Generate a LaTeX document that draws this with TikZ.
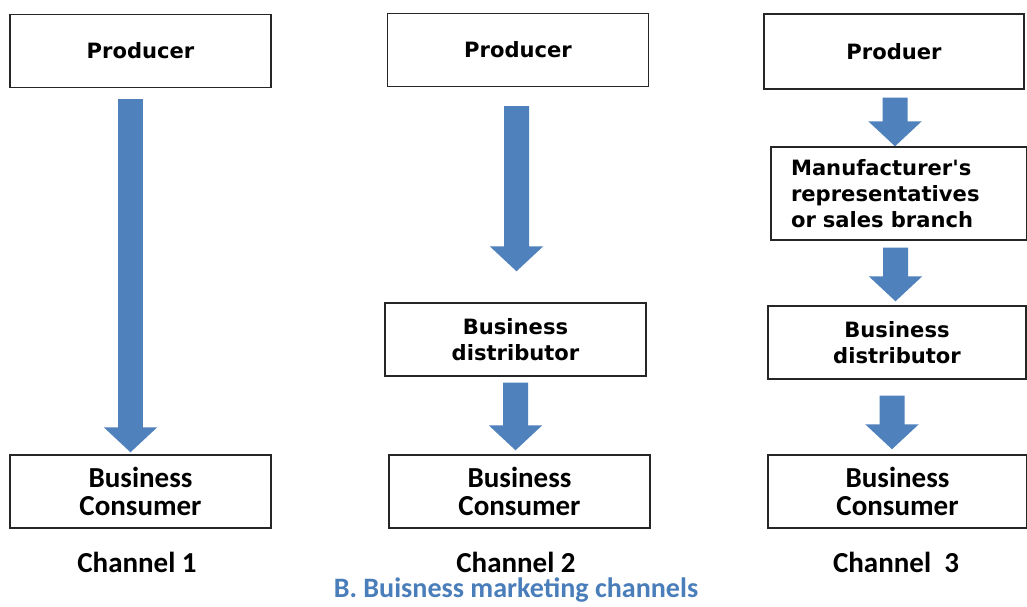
\documentclass[tikz,border=0pt]{standalone}
\usepackage{fontspec}
\setmainfont{Carlito}
\newfontfamily\verdfont{DejaVu Sans}
\usetikzlibrary{arrows.meta}
\definecolor{arrowblue}{RGB}{79,129,189}
\definecolor{titleblue}{RGB}{74,126,187}

\begin{document}
\begin{tikzpicture}[x = 0.02cm, y = -0.02cm]
\tikzstyle{BoxStyle}=[draw = black!85,
                      line width = 0.8pt,
                      minimum width = 5.22cm,
                      minimum height = 1.46cm,
                      inner sep = 0pt,
                      align = center]
\tikzstyle{TopText}=[font = \verdfont\bfseries\fontsize{12}{14.7}\selectfont]
\tikzstyle{LowText}=[font = \bfseries\fontsize{16.5}{15.9}\selectfont, inner sep = 0pt]
\tikzstyle{FlowArrow}=[draw = arrowblue, line width = 0.5cm,
                       -{Triangle[width = 1.04cm, length = 0.5cm]}]
\fill[white] (0,0) rectangle (1027,606);
\useasboundingbox (0,0) rectangle (1027,606);
\node[BoxStyle, TopText] (prod1) at (140.5, 51) {Producer};
\node[BoxStyle, TopText] (prod2) at (518, 50) {Producer};
\node[BoxStyle, TopText, minimum width = 5.2cm, minimum height = 1.5cm] (prod3) at (894, 51.5) {Produer};
\node[BoxStyle, TopText, minimum width = 5.12cm, minimum height = 1.86cm,
      text width = 4.32cm, align = left] (rep3) at (899, 193.5) {Manufacturer\textquotesingle s\\representatives\\or sales branch};
\node[BoxStyle, TopText] (dist2) at (515.5, 339.5) {Business\\distributor};
\node[BoxStyle, TopText, minimum width = 5.16cm] (dist3) at (897, 342.5) {Business\\distributor};
\node[BoxStyle, LowText] (cons1) at (140.5, 491.5) {Business\\Consumer};
\node[BoxStyle, LowText] (cons2) at (519.5, 491.5) {Business\\Consumer};
\node[BoxStyle, LowText, minimum width = 5.18cm] (cons3) at (897.5, 491.5) {Business\\Consumer};
\node[LowText] (chan1) at (137, 562) {Channel 1};
\node[LowText] (chan2) at (516, 562) {Channel 2};
\node[LowText] (chan3) at (896, 562) {Channel\ \ 3};
\node[LowText, text = titleblue, font = \bfseries\fontsize{16}{16}\selectfont] (title) at (516, 590) {B. Buisness marketing channels};
\draw[FlowArrow, shorten <= 0.22cm, shorten >= 0.04cm] ([xshift = -0.2cm]prod1.south) -- ([xshift = -0.2cm]cons1.north);
\draw[FlowArrow, shorten <= 0.38cm, shorten >= 0.62cm] ([xshift = -0.03cm]prod2.south) -- ([xshift = 0.02cm]dist2.north);
\draw[FlowArrow, shorten <= 0.12cm, shorten >= 0.08cm] (dist2.south) -- ([xshift = -0.08cm]cons2.north);
\draw[FlowArrow, shorten <= 0.16cm] ([xshift = 0.02cm]prod3.south) -- ([xshift = -0.08cm]rep3.north);
\draw[FlowArrow, shorten <= 0.14cm, shorten >= 0.08cm] ([xshift = -0.07cm]rep3.south) -- ([xshift = -0.03cm]dist3.north);
\draw[FlowArrow, shorten <= 0.32cm, shorten >= 0.1cm] ([xshift = -0.1cm]dist3.south) -- ([xshift = -0.11cm]cons3.north);
\end{tikzpicture}
\end{document}
